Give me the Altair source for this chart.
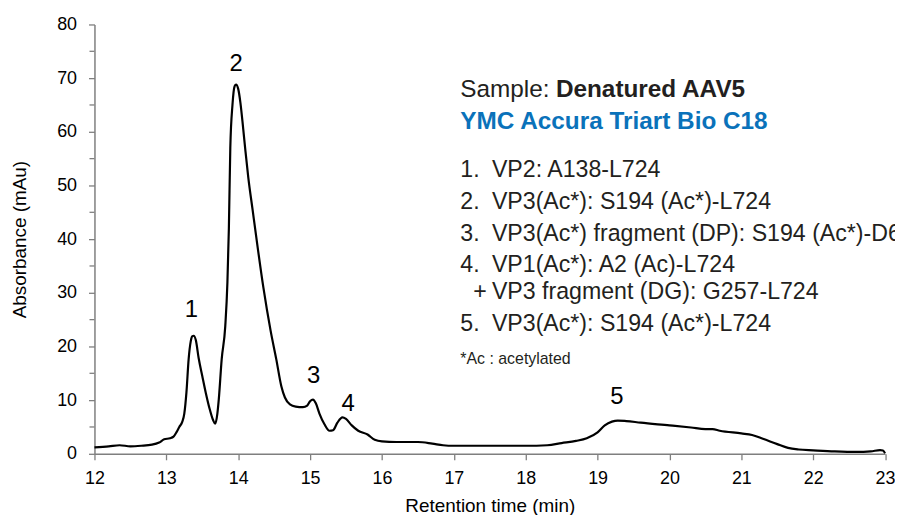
import altair as alt
import pandas as pd

# Chromatogram trace (retention time in min, absorbance in mAu)
time = [12.0, 12.2, 12.35, 12.5, 12.65, 12.8, 12.9, 12.97, 13.05, 13.1, 13.14, 13.18, 13.22,
        13.25, 13.28, 13.31, 13.34, 13.36, 13.38, 13.41, 13.45, 13.5, 13.55, 13.6, 13.65,
        13.68, 13.71, 13.73, 13.77, 13.82, 13.85, 13.87, 13.89, 13.92, 13.95, 13.97, 14.0,
        14.03, 14.07, 14.1, 14.14, 14.2, 14.25, 14.35, 14.45, 14.53, 14.6, 14.65, 14.72, 14.8, 14.9,
        14.96, 15.0, 15.04, 15.08, 15.13, 15.2, 15.27, 15.32, 15.38, 15.45, 15.5, 15.58,
        15.67, 15.8, 15.9, 16.0, 16.2, 16.5, 16.7, 16.85, 17.0, 17.5, 18.0, 18.3, 18.5,
        18.7, 18.85, 19.0, 19.1, 19.2, 19.28, 19.4, 19.6, 20.0, 20.3, 20.5, 20.6, 20.7,
        21.0, 21.15, 21.3, 21.5, 21.65, 21.8, 22.0, 22.3, 22.6, 22.8, 22.93, 22.97, 23.0]
absorbance = [1.2, 1.4, 1.6, 1.4, 1.5, 1.7, 2.1, 2.7, 2.9, 3.2, 4.0, 5.0, 5.9,
              7.5, 11.5, 17.6, 21.0, 21.9, 22.0, 21.2, 17.8, 14.5, 11.3, 8.5, 6.3,
              5.6, 7.5, 10.2, 17.6, 23.8, 32.0, 42.0, 57.0, 65.0, 68.5, 68.8, 68.0,
              65.5, 60.5, 56.5, 51.5, 45.5, 40.5, 31.0, 23.0, 17.6, 12.6, 10.5, 9.2, 8.8, 8.7,
              9.0, 9.8, 10.1, 9.4, 7.5, 5.5, 4.3, 4.4, 5.8, 6.8, 6.5, 5.3,
              4.3, 3.6, 2.6, 2.3, 2.2, 2.2, 1.9, 1.6, 1.5, 1.5, 1.5, 1.6, 2.0,
              2.4, 2.9, 4.0, 5.3, 6.0, 6.2, 6.1, 5.8, 5.3, 4.9, 4.6, 4.6, 4.3,
              3.8, 3.5, 2.8, 1.8, 1.1, 0.8, 0.65, 0.45, 0.35, 0.45, 0.7, 0.6, 0.1]

# Peak number labels
peak_labels = ["1", "2", "3", "4", "5"]
peak_x = [13.35, 13.97, 15.05, 15.53, 19.27]
peak_y = [26.7, 72.6, 14.5, 9.3, 10.5]

# Axis ticks
x_ticks = [12, 13, 14, 15, 16, 17, 18, 19, 20, 21, 22, 23]
y_ticks = [0, 10, 20, 30, 40, 50, 60, 70, 80]
y_minor = [5, 15, 25, 35, 45, 55, 65, 75]

# Annotation block
num_text = ["1.", "2.", "3.", "4.", "5."]
num_y = [52.8, 46.94, 40.96, 35.08, 24.09]
item_text = ["VP2: A138-L724",
             "VP3(Ac*): S194 (Ac*)-L724",
             "VP3(Ac*) fragment (DP): S194 (Ac*)-D6",
             "VP1(Ac*): A2 (Ac)-L724",
             "VP3 fragment (DG): G257-L724",
             "VP3(Ac*): S194 (Ac*)-L724"]
item_y = [52.8, 46.94, 40.96, 35.08, 30.2, 24.09]
plus_text = ["+"]
plus_y = [30.2]
sample_label = "Sample:"
sample_value = "Denatured AAV5"
column_name = "YMC Accura Triart Bio C18"
footnote = "*Ac : acetylated"

X_LEFT = 17.09
X_ITEM = 17.53
X_BOLD = 18.42
X_PLUS = 17.27

FONT = "Liberation Sans"
TXT = "#231f20"

xs = alt.Scale(domain=[12, 23], nice=False, zero=False)
ys = alt.Scale(domain=[0, 80], nice=False)

trace = pd.DataFrame({"t": time, "a": absorbance})

line = alt.Chart(trace).mark_line(color="black", strokeWidth=2.2, interpolate="monotone").encode(
    x=alt.X("t:Q", scale=xs,
            axis=alt.Axis(title="Retention time (min)", values=x_ticks, format="d", grid=False,
                          tickSize=6, labelPadding=10, titlePadding=9, labelFlush=False)),
    y=alt.Y("a:Q", scale=ys,
            axis=alt.Axis(title="Absorbance (mAu)", values=y_ticks, format="d", grid=False,
                          tickSize=6, labelPadding=12, titlePadding=27, labelFlush=False)),
)

minor = alt.Chart(pd.DataFrame({"m": y_minor})).mark_rule(color="#7f7f7f", strokeWidth=1.3).encode(
    y=alt.Y("m:Q", scale=ys), x=alt.value(-5), x2=alt.value(0)
)

peaks = alt.Chart(pd.DataFrame({"x": peak_x, "y": peak_y, "l": peak_labels})).mark_text(
    font=FONT, fontSize=24, color="black", baseline="middle", align="center"
).encode(x=alt.X("x:Q", scale=xs), y=alt.Y("y:Q", scale=ys), text="l:N")

nums = alt.Chart(pd.DataFrame({"x": [X_LEFT] * len(num_text), "y": num_y, "l": num_text})).mark_text(
    font=FONT, fontSize=23.3, color=TXT, baseline="middle", align="left"
).encode(x=alt.X("x:Q", scale=xs), y=alt.Y("y:Q", scale=ys), text="l:N")

items = alt.Chart(pd.DataFrame({"x": [X_ITEM] * len(item_text), "y": item_y, "l": item_text})).mark_text(
    font=FONT, fontSize=23.3, color=TXT, baseline="middle", align="left"
).encode(x=alt.X("x:Q", scale=xs), y=alt.Y("y:Q", scale=ys), text="l:N")

plus = alt.Chart(pd.DataFrame({"x": [X_PLUS], "y": plus_y, "l": plus_text})).mark_text(
    font=FONT, fontSize=23.3, color=TXT, baseline="middle", align="left"
).encode(x=alt.X("x:Q", scale=xs), y=alt.Y("y:Q", scale=ys), text="l:N")

sample = alt.Chart(pd.DataFrame({"x": [X_LEFT], "y": [67.73], "l": [sample_label]})).mark_text(
    font=FONT, fontSize=24.5, color=TXT, baseline="middle", align="left"
).encode(x=alt.X("x:Q", scale=xs), y=alt.Y("y:Q", scale=ys), text="l:N")

sample_b = alt.Chart(pd.DataFrame({"x": [X_BOLD], "y": [67.73], "l": [sample_value]})).mark_text(
    font=FONT, fontSize=24.5, fontWeight="bold", color=TXT, baseline="middle", align="left"
).encode(x=alt.X("x:Q", scale=xs), y=alt.Y("y:Q", scale=ys), text="l:N")

column = alt.Chart(pd.DataFrame({"x": [X_LEFT], "y": [61.9], "l": [column_name]})).mark_text(
    font=FONT, fontSize=24.5, fontWeight="bold", color="#0a72ba", baseline="middle", align="left"
).encode(x=alt.X("x:Q", scale=xs), y=alt.Y("y:Q", scale=ys), text="l:N")

foot = alt.Chart(pd.DataFrame({"x": [X_LEFT], "y": [17.6], "l": [footnote]})).mark_text(
    font=FONT, fontSize=16, color=TXT, baseline="middle", align="left"
).encode(x=alt.X("x:Q", scale=xs), y=alt.Y("y:Q", scale=ys), text="l:N")

chart = alt.layer(line, minor, peaks, nums, items, plus, sample, sample_b, column, foot).properties(
    width=795.5, height=432,
    autosize=alt.AutoSizeParams(type="none"),
    padding={"left": 87, "top": 15, "right": 10, "bottom": 60},
).configure_view(stroke=None).configure_axis(
    domainColor="#7f7f7f", domainWidth=1.5, tickColor="#7f7f7f", tickWidth=1.3,
    labelFont=FONT, labelFontSize=18, labelColor="black",
    titleFont=FONT, titleFontSize=19, titleFontWeight="normal", titleColor="black",
)

chart.save("out.html", embed_options={"renderer": "svg", "actions": False})
